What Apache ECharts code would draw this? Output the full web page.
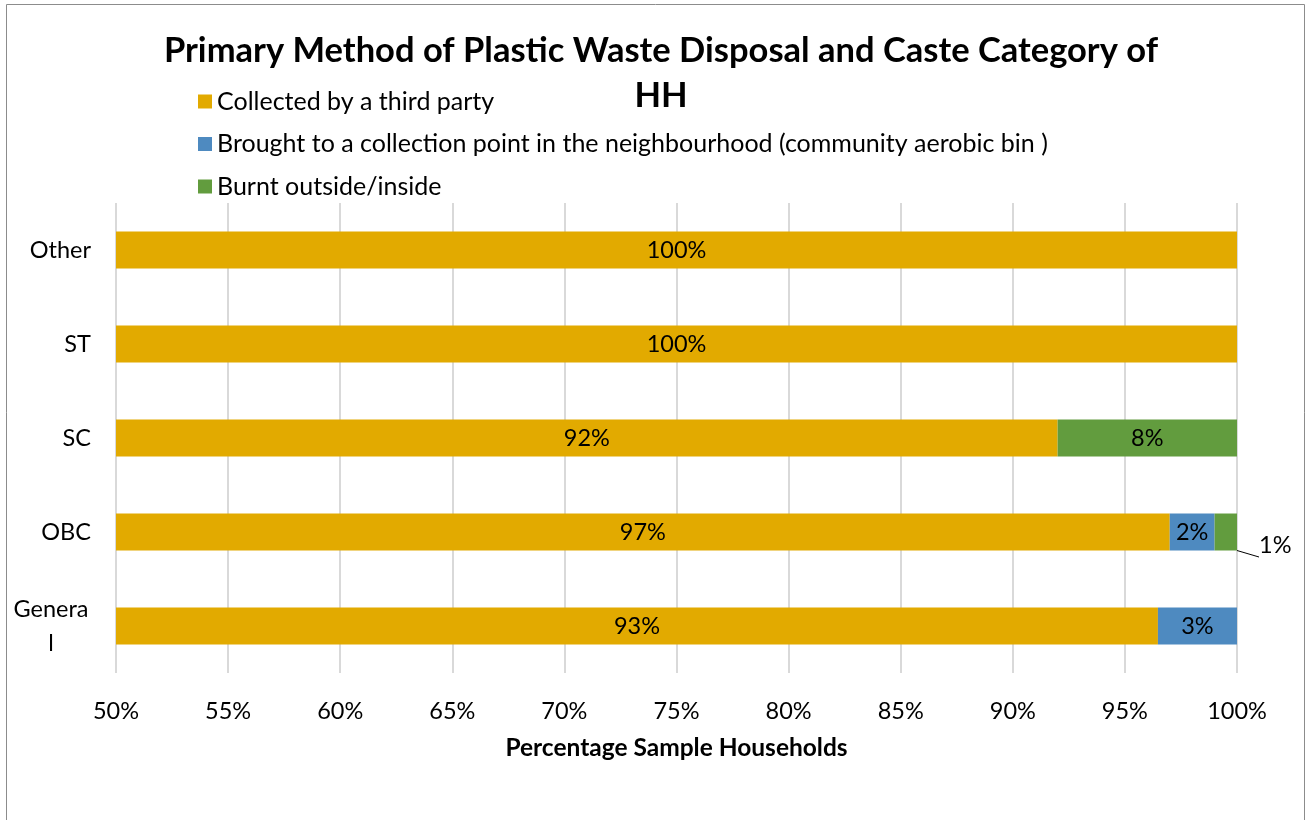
<!DOCTYPE html>
<html>
<head>
<meta charset="utf-8">
<script src="https://cdn.jsdelivr.net/npm/echarts@6/dist/echarts.min.js"></script>
<style>
  html, body { margin: 0; padding: 0; background: #fff; }
  #chart { width: 1307px; height: 820px; }
</style>
</head>
<body>
<div id="chart"></div>
<script>
// Caste categories, bottom to top
const categories = ['General', 'OBC', 'SC', 'ST', 'Other'];
const categoryLabels = ['Genera\nl', 'OBC', 'SC', 'ST', 'Other'];

// Share of sample households (%) by primary disposal method
const seriesNames = [
  'Collected by a third party',
  'Brought to a collection point in the neighbourhood (community aerobic bin )',
  'Burnt outside/inside'
];
const collected = [93, 97, 92, 100, 100];
const collectionPoint = [3.4, 2, 0, 0, 0];
const burnt = [0, 1, 8, 0, 0];

// X axis ticks (%)
const xMin = 50, xMax = 100, xStep = 5;

const colors = ['#E2AA00', '#4E8AC0', '#629C3E'];
const FONT = 'Lato, "Open Sans", sans-serif';
const LABEL_SIZE = 23.5;

const raw = [collected, collectionPoint, burnt];
const totals = categories.map((_, i) => raw.reduce((s, arr) => s + arr[i], 0));

const chart = echarts.init(document.getElementById('chart'));

const series = raw.map((arr, k) => ({
  name: seriesNames[k],
  type: 'bar',
  stack: 'total',
  barWidth: 37,
  itemStyle: { color: colors[k] },
  data: arr.map((v, i) => ({
    value: v / totals[i] * 100,
    raw: v,
    // the thin OBC "burnt" slice gets its label outside, with a guide line
    label: (k === 2 && i === 1)
      ? { show: true, position: 'right', distance: 22, offset: [0, 13] }
      : { show: v > 0, position: 'inside' }
  })),
  label: {
    fontFamily: FONT,
    fontSize: LABEL_SIZE,
    color: '#000',
    formatter: p => Math.round(p.data.raw) + '%'
  },
  labelLine: {
    show: k === 2,
    lineStyle: { color: '#000', width: 1 }
  },
  emphasis: { disabled: true }
}));

chart.setOption({
  animation: false,
  backgroundColor: '#fff',
  textStyle: { fontFamily: FONT },
  graphic: [{
    type: 'rect',
    shape: { x: 6.5, y: 4.5, width: 1298, height: 840 },
    style: { fill: 'none', stroke: '#8c8c8c', lineWidth: 1 },
    silent: true
  }],
  title: {
    text: 'Primary Method of Plastic Waste Disposal and Caste Category of\nHH',
    left: 656,
    textAlign: 'center',
    top: 23,
    textStyle: {
      fontFamily: FONT,
      fontSize: 34.5,
      fontWeight: 'bold',
      color: '#000',
      lineHeight: 45
    }
  },
  legend: {
    orient: 'vertical',
    left: 193,
    top: 84,
    itemWidth: 14,
    itemHeight: 14,
    itemGap: 17.5,
    icon: 'rect',
    textStyle: { fontFamily: FONT, fontSize: 25, color: '#000' },
    data: seriesNames
  },
  grid: { left: 116, right: 70, top: 203, bottom: 147 },
  xAxis: {
    type: 'value',
    min: xMin,
    max: xMax,
    interval: xStep,
    axisLine: { show: false },
    axisTick: { show: false },
    splitLine: { lineStyle: { color: '#d9d9d9', width: 2 } },
    axisLabel: {
      formatter: '{value}%',
      fontFamily: FONT,
      fontSize: LABEL_SIZE,
      color: '#000',
      margin: 26
    },
    name: 'Percentage Sample Households',
    nameLocation: 'middle',
    nameGap: 63,
    nameTextStyle: { fontFamily: FONT, fontSize: 24.5, fontWeight: 'bold', color: '#000' }
  },
  yAxis: {
    type: 'category',
    data: categories,
    axisLine: { show: false },
    axisTick: { show: false },
    splitLine: { show: false },
    axisLabel: {
      fontFamily: FONT,
      fontSize: LABEL_SIZE,
      color: '#000',
      margin: 25,
      align: 'right',
      formatter: (v, i) => i === 0 ? '{g|' + categoryLabels[i] + '}' : categoryLabels[i],
      rich: {
        g: { width: 80, align: 'center', fontFamily: FONT, fontSize: LABEL_SIZE, color: '#000', lineHeight: 34 }
      }
    }
  },
  series: series
});
</script>
</body>
</html>
